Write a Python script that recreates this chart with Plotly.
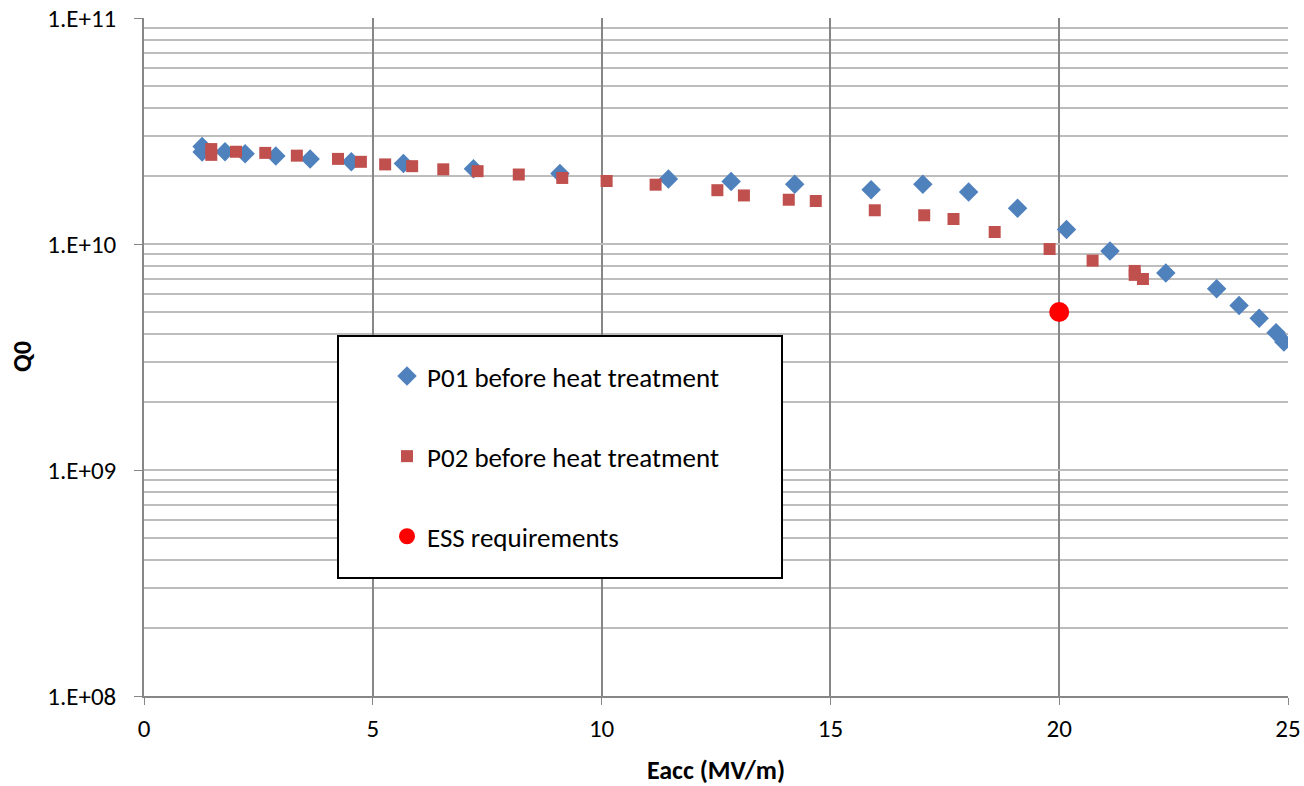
import plotly.graph_objects as go

# ---- data ----
p01_eacc = [1.27, 1.27, 1.77, 2.21, 2.88, 3.63, 4.53, 5.67, 7.20, 9.09, 11.46, 12.83,
            14.22, 15.89, 17.02, 18.02, 19.09, 20.16, 21.11, 22.33, 23.44, 23.93,
            24.37, 24.74, 24.91]
p01_q0 = [2.70e10, 2.55e10, 2.56e10, 2.51e10, 2.45e10, 2.38e10, 2.31e10, 2.27e10,
          2.15e10, 2.05e10, 1.94e10, 1.89e10, 1.84e10, 1.74e10, 1.84e10, 1.70e10,
          1.44e10, 1.16e10, 9.3e9, 7.45e9, 6.34e9, 5.35e9, 4.69e9, 4.05e9, 3.68e9]

p02_eacc = [1.47, 1.47, 2.01, 2.65, 3.34, 4.24, 4.74, 5.27, 5.86, 6.54, 7.29, 8.19,
            9.14, 10.11, 11.18, 12.53, 13.11, 14.09, 14.68, 15.97, 17.05, 17.69,
            18.59, 19.79, 20.73, 21.65, 21.65, 21.83]
p02_q0 = [2.63e10, 2.48e10, 2.56e10, 2.53e10, 2.46e10, 2.38e10, 2.31e10, 2.25e10,
          2.21e10, 2.14e10, 2.10e10, 2.03e10, 1.96e10, 1.90e10, 1.83e10, 1.73e10,
          1.64e10, 1.57e10, 1.55e10, 1.41e10, 1.34e10, 1.29e10, 1.13e10, 9.5e9,
          8.44e9, 7.6e9, 7.3e9, 7.0e9]

ess_eacc = [20.0]
ess_q0 = [5.0e9]

y_tickvals = [1e8, 1e9, 1e10, 1e11]
y_ticktext = ["1.E+08", "1.E+09", "1.E+10", "1.E+11"]
x_tickvals = [0, 5, 10, 15, 20, 25]

FONT = "Carlito, Lato, sans-serif"

fig = go.Figure()
fig.add_trace(go.Scatter(
    x=p01_eacc, y=p01_q0, mode="markers", name="P01 before heat treatment",
    legendgroup="a",
    marker=dict(symbol="diamond", size=15, color="#4F81BD")))
fig.add_trace(go.Scatter(
    x=p02_eacc, y=p02_q0, mode="markers", name="P02 before heat treatment",
    legendgroup="b",
    marker=dict(symbol="square", size=12, color="#C0504D")))
fig.add_trace(go.Scatter(
    x=ess_eacc, y=ess_q0, mode="markers", name="ESS requirements",
    legendgroup="c",
    marker=dict(symbol="circle", size=20, color="#FF0000")))

# legend frame
fig.add_shape(type="rect", xref="paper", yref="paper",
              x0=(338 - 144) / 1144, x1=(782 - 144) / 1144,
              y0=(696 - 578) / 678, y1=(696 - 336) / 678,
              line=dict(color="black", width=2), fillcolor="white", layer="above")

# y-axis title
fig.add_annotation(text="<b>Q0</b>", xref="paper", yref="paper",
                   x=(22 - 144) / 1144, y=(696 - 357) / 678, xanchor="center", yanchor="middle",
                   textangle=-90, showarrow=False, font=dict(family=FONT, size=26, color="black"))

fig.update_layout(
    width=1304, height=786,
    margin=dict(l=144, r=16, t=18, b=90, autoexpand=False),
    paper_bgcolor="white", plot_bgcolor="white",
    font=dict(family=FONT, size=25, color="black"),
    showlegend=True,
    legend=dict(x=(387 - 144) / 1144, y=(696 - 352) / 678, xanchor="left", yanchor="top",
                bgcolor="rgba(0,0,0,0)", borderwidth=0, tracegroupgap=42,
                font=dict(family=FONT, size=27, color="black")),
    xaxis=dict(range=[0, 25], tickvals=x_tickvals, showgrid=True, gridcolor="#878787",
               gridwidth=1.5, showline=True, linecolor="#878787", linewidth=1.5,
               ticks="outside", ticklen=7, tickcolor="#878787", zeroline=False,
               automargin=False, ticklabelstandoff=2,
               tickfont=dict(size=25),
               title=dict(text="<b>Eacc (MV/m)</b>", font=dict(size=26), standoff=25)),
    yaxis=dict(type="log", range=[8, 11], tickvals=y_tickvals, ticktext=y_ticktext,
               showgrid=True, gridcolor="#BDBDBD", gridwidth=1.5,
               showline=True, linecolor="#878787", linewidth=1.5,
               ticks="outside", ticklen=8, tickcolor="#878787",
               automargin=False, ticklabelstandoff=13,
               tickfont=dict(size=25),
               minor=dict(dtick="D1", showgrid=True, gridcolor="#BDBDBD", gridwidth=1.5,
                          ticks="")),
)

fig.write_html("out.html", config={"displayModeBar": False},
               post_script="document.body.style.margin='0';document.body.style.overflow='hidden';")
